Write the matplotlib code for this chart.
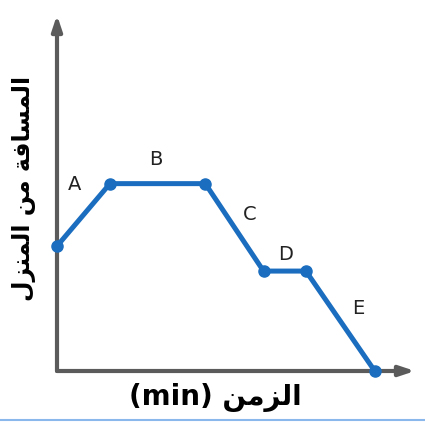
import matplotlib.pyplot as plt
from matplotlib.lines import Line2D

# time (min) and distance from home
times = [0, 5, 14, 19.5, 23.5, 30]
distance = [20, 30, 30, 16, 16, 0]
segments = ['A', 'B', 'C', 'D', 'E']
seg_pos = [(1.7, 29.8), (9.3, 33.8), (18.2, 25.0), (21.6, 18.6), (28.4, 10.0)]


def shape(chars):
    # chars are already Arabic presentation forms in logical order
    return ''.join(reversed(chars))


# المسافة من المنزل
y_text = shape('\uFE8D\uFEDF\uFEE4\uFEB4\uFE8E\uFED3\uFE94 \uFEE3\uFEE6 '
               '\uFE8D\uFEDF\uFEE4\uFEE8\uFEB0\uFEDD')
# الزمن
x_text = '(min) ' + shape('\uFE8D\uFEDF\uFEB0\uFEE3\uFEE6')

W, H = 425, 423
fig = plt.figure(figsize=(W / 100, H / 100), dpi=100)
ax = fig.add_axes([57 / W, (H - 371) / H, (415 - 57) / W, (371 - 15) / H])
ax.set_xlim(0, 33.8)
ax.set_ylim(0, 57)
ax.axis('off')

axis_col = '#5b5b5b'
arrow = dict(arrowstyle='-|>,head_length=0.9,head_width=0.3', color=axis_col,
             lw=3, shrinkA=0, shrinkB=0)
ax.annotate('', xy=(1, 0), xytext=(0, 0), xycoords='axes fraction', arrowprops=arrow)
ax.annotate('', xy=(0, 1), xytext=(0, 0), xycoords='axes fraction', arrowprops=arrow)

ax.plot(times, distance, color='#1a6dbf', lw=3.6, marker='o', ms=8,
        clip_on=False, solid_capstyle='round', zorder=3)

for lab, (x, y) in zip(segments, seg_pos):
    ax.text(x, y, lab, fontsize=14, ha='center', va='center', color='#222222')

fig.text(215 / W, 1 - 397 / H, x_text, fontsize=20, fontweight='bold',
         ha='center', va='center', family='DejaVu Sans')
fig.text(24 / W, 1 - 188 / H, y_text, fontsize=17, fontweight='bold',
         rotation=90, ha='center', va='center', family='DejaVu Sans')

fig.add_artist(Line2D([0, 1], [1 - 420 / H] * 2, color='#8ab8ec', lw=1.5))

fig.savefig('out.png', dpi=100)
